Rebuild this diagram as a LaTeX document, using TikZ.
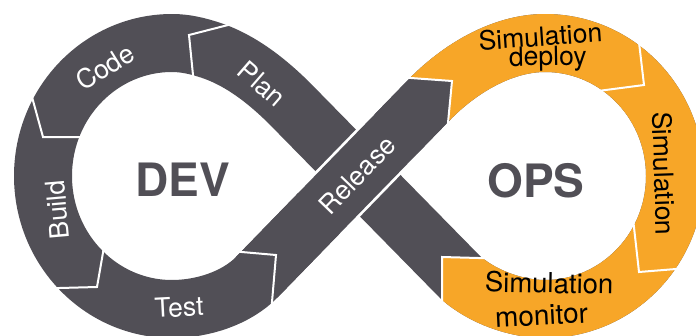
\documentclass[tikz,border=0pt]{standalone}
\usepackage{fontspec}
\setmainfont{TeX Gyre Heros}
\definecolor{devgray}{HTML}{514F56}
\definecolor{opsorange}{HTML}{F7A628}
\tikzset{
  band/.style={line width=58pt, line join=round},
  sepline/.style={draw=white, line width=2pt, line join=miter},
  lbl/.style={inner sep=0pt, font=\fontsize{26.5}{26.5}\selectfont},
  wlbl/.style={lbl, text=white},
  olbl/.style={lbl, text=black},
  big/.style={inner sep=0pt, text=devgray, font=\fontsize{46}{46}\selectfont\bfseries}
}
\begin{document}
\begin{tikzpicture}[x=1pt,y=-1pt]
\useasboundingbox (0,0) rectangle (696,335);
\clip (0,0) rectangle (696,335);
\coordinate (L8) at (257,277);
\coordinate (R1) at (429,100);
\coordinate (R2) at (545,43);
\coordinate (R4) at (675,176);
\coordinate (R6) at (545,309);
\coordinate (R7) at (461,278);
\coordinate (L1) at (300,114);
\coordinate (L2) at (210,50);
\coordinate (L3) at (172,43);
\coordinate (L5) at (43,176);
\coordinate (L7) at (172,309);
\coordinate (C) at (357,173);
\def\loopline{(R1) .. controls (459,69) and (502,43) .. (R2)
  .. controls (616.8,43) and (675,102.5) .. (R4)
  .. controls (675,249.5) and (616.8,309) .. (R6)
  .. controls (516,309) and (483,297) .. (R7)
  -- (L1)
  .. controls (274.5,87.2) and (245,61.5) .. (L2)
  .. controls (197.6,46) and (185.5,43) .. (L3)
  .. controls (100.8,43) and (43,102.5) .. (L5)
  .. controls (43,249.5) and (100.8,309) .. (L7)
  .. controls (202,309) and (236,298.5) .. (L8) -- cycle}
% whole band
\draw[band, devgray] \loopline;
% orange part (OPS loop)
\begin{scope}
  \clip (389,76.5) -- (452,81) -- (446,142) -- (500,258.5) -- (442,257)
        -- (442,340) -- (710,340) -- (710,-5) -- (389,-5) -- cycle;
  \draw[band, opsorange] \loopline;
\end{scope}
% Release band on top at the crossing, with white borders
\begin{scope}
  \clip (C) circle (62);
  \draw[line width=63.5pt, white] (L8) -- (R1);
\end{scope}
\draw[line width=58pt, devgray] (L8) -- (R1);
% separators
\draw[sepline] (234,23.5) -- (189,35) -- (193.5,80);
\draw[sepline] (30.5,91.5) -- (43,137) -- (84,137);
\draw[sepline] (104,247) -- (97,287) -- (52,288.2);
\draw[sepline] (236,251.5) -- (276,255) -- (271.5,308);
\draw[sepline] (404,77.5) -- (452,81) -- (447.5,128);
\draw[sepline] (638.5,38) -- (644,85) -- (598,91);
\draw[sepline] (633.4,222) -- (639,272) -- (682,268.5);
\draw[sepline] (486,258.2) -- (442,257) -- (442,304);
% labels
\node[wlbl, rotate=-41] (plan) at (262,84) {Plan};
\node[wlbl, rotate=32] (code) at (105,67) {Code};
\node[wlbl, rotate=95] (build) at (57.5,210) {Build};
\node[wlbl, rotate=3] (test) at (179,307) {Test};
\node[wlbl, rotate=46] (release) at (357,175) {Release};
\node[olbl, rotate=4, anchor=base] (simd1) at (541,46) {Simulation};
\node[olbl, rotate=1, anchor=base] (simd2) at (548,65.5) {deploy};
\node[olbl, rotate=-88] (sim) at (664,173.5) {Simulation};
\node[olbl, rotate=-1, anchor=base, font=\fontsize{27.5}{27.5}\selectfont] (simm1) at (549,293) {Simulation};
\node[olbl, rotate=3, anchor=base, font=\fontsize{28}{28}\selectfont] (simm2) at (542,325) {monitor};
\node[big] (dev) at (182.5,180) {DEV};
\node[big] (ops) at (536,181) {OPS};
\end{tikzpicture}
\end{document}
